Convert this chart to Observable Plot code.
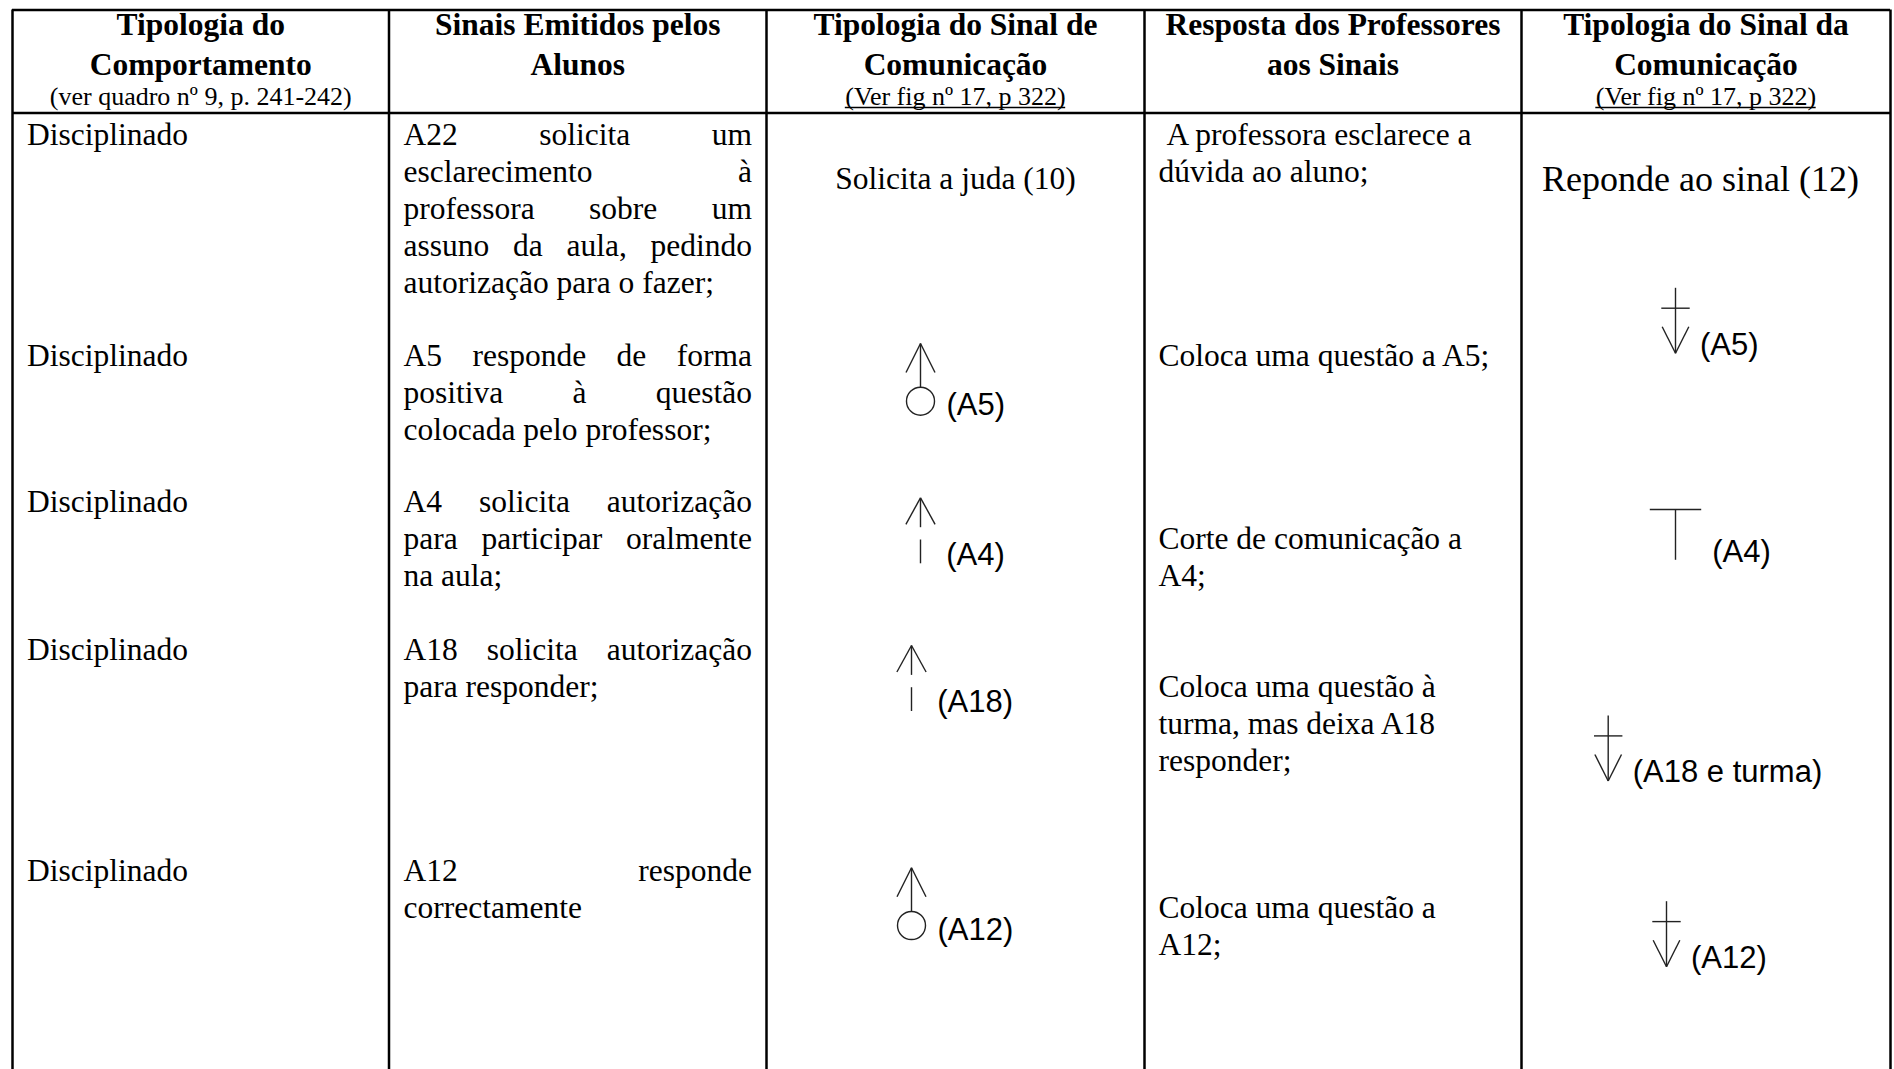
<!DOCTYPE html>
<html><head><meta charset="utf-8">
<script src="https://cdn.jsdelivr.net/npm/d3@7"></script>
<script src="https://cdn.jsdelivr.net/npm/@observablehq/plot@0.6"></script>
<style>html,body{margin:0;padding:0;background:#fff;overflow:hidden}#chart svg{display:block}</style>
</head><body><div id="chart"></div>
<script>
// ---------------- data (content) ----------------
const headers = [
  ["Tipologia do", "Comportamento"],
  ["Sinais Emitidos pelos", "Alunos"],
  ["Tipologia do Sinal de", "Comunicação"],
  ["Resposta dos Professores", "aos Sinais"],
  ["Tipologia do Sinal da", "Comunicação"]
];
const headerNotes = ["(ver quadro nº 9, p. 241-242)", "", "(Ver fig nº 17, p 322)", "", "(Ver fig nº 17, p 322)"];
const noteUnderlined = [false, false, true, false, true];
const behaviour = ["Disciplinado", "Disciplinado", "Disciplinado", "Disciplinado", "Disciplinado"];
const studentSignals = [
  ["A22 solicita um", "esclarecimento à", "professora sobre um", "assuno da aula, pedindo", "autorização para o fazer;"],
  ["A5 responde de forma", "positiva à questão", "colocada pelo professor;"],
  ["A4 solicita autorização", "para participar oralmente", "na aula;"],
  ["A18 solicita autorização", "para responder;"],
  ["A12 responde", "correctamente"]
];
const teacherResponses = [
  ["\u00a0A professora esclarece a", "dúvida ao aluno;"],
  ["Coloca uma questão a A5;"],
  ["Corte de comunicação a", "A4;"],
  ["Coloca uma questão à", "turma, mas deixa A18", "responder;"],
  ["Coloca uma questão a", "A12;"]
];
const signalCaption = "Solicita a juda (10)";
const responseCaption = "Reponde ao sinal (12)";
const studentSymbols = [null, "up-circle", "up-bar", "up-bar", "up-circle"];
const studentLabels = [null, "(A5)", "(A4)", "(A18)", "(A12)"];
const teacherSymbols = [null, "down-cross", "T", "down-cross", "down-cross"];
const teacherLabels = [null, "(A5)", "(A4)", "(A18 e turma)", "(A12)"];

// ---------------- layout ----------------
const W = 1894, H = 1069;
const colEdges = [12, 388.5, 766, 1144, 1521, 1890];
const topY = 9.5, headY = 112.5;
const headBase = [34, 74], noteBase = 104;
const rowBase = [144, 365, 511, 659, 880];
const lineH = 37;
const pad = 14;
const respOffset = [0, 0, 1, 1, 1];
const captionPos = [[955, 188], [1700, 190]];
const studentAnchor = [null, [920, 343], [920, 497.3], [911, 645], [911, 867.3]];
const teacherAnchor = [null, [1675, 287.3], [1675, 509], [1607.7, 715], [1666, 900.7]];

const SERIF = '"Times New Roman", "Liberation Serif", serif';
const SANS = 'Arial, "Liberation Sans", sans-serif';
const FS = 31.5, NOTE_FS = 26, CAP2_FS = 36, LABEL_FS = 31;
const INK = "#000", SYM = "#222";

const ctx = document.createElement("canvas").getContext("2d");
function measure(text, size, weight = "normal") {
  ctx.font = `${weight} ${size}px ${SERIF}`;
  return ctx.measureText(text).width;
}
const colCenter = (c) => (colEdges[c] + colEdges[c + 1]) / 2;

// headers
const headText = [];
headers.forEach((lines, c) => lines.forEach((t, i) => headText.push({x: colCenter(c), y: headBase[i], t})));
const noteText = [], underlines = [];
headerNotes.forEach((t, c) => {
  if (!t) return;
  noteText.push({x: colCenter(c), y: noteBase, t});
  if (noteUnderlined[c]) {
    const w = measure(t, NOTE_FS);
    underlines.push({x1: colCenter(c) - w / 2, x2: colCenter(c) + w / 2, y: noteBase + 3});
  }
});

// body text (left aligned)
const bodyText = [];
behaviour.forEach((t, r) => bodyText.push({x: colEdges[0] + pad + 0.5, y: rowBase[r], t}));
teacherResponses.forEach((lines, r) => lines.forEach((t, i) =>
  bodyText.push({x: colEdges[3] + pad, y: rowBase[r] + (i + respOffset[r]) * lineH, t})));

// justified column 2
const left2 = colEdges[1] + pad + 0.5, right2 = colEdges[2] - pad - 0.5;
studentSignals.forEach((lines, r) => lines.forEach((line, i) => {
  const y = rowBase[r] + i * lineH;
  const last = i === lines.length - 1;
  const words = line.split(" ");
  if (last || words.length < 2) { bodyText.push({x: left2, y, t: line}); return; }
  const ws = words.map((w) => measure(w, FS));
  const gap = (right2 - left2 - d3.sum(ws)) / (words.length - 1);
  let x = left2;
  words.forEach((w, k) => { bodyText.push({x, y, t: w}); x += ws[k] + gap; });
}));

// symbols
const segs = [], circles = [], labels = [];
function addSymbol(type, [x, y], label) {
  if (type === "up-circle") {
    segs.push([x, y, x - 14.5, y + 29], [x, y, x + 14.5, y + 29], [x, y, x, y + 43.7]);
    circles.push({x, y: y + 57.7});
    labels.push({x: x + 26, y: y + 62, t: label});
  } else if (type === "up-bar") {
    segs.push([x, y, x - 14.6, y + 26.5], [x, y, x + 14.6, y + 26.5], [x, y, x, y + 29.4], [x, y + 41.7, x, y + 65.5]);
    labels.push({x: x + 25.7, y: y + 57, t: label});
  } else if (type === "down-cross") {
    segs.push([x, y, x, y + 65.5], [x - 14.2, y + 20.4, x + 14.2, y + 20.4],
              [x - 13.3, y + 39, x, y + 65.5], [x + 13.3, y + 39, x, y + 65.5]);
    labels.push({x: x + 24.5, y: y + 57, t: label});
  } else if (type === "T") {
    segs.push([x - 25.7, y, x + 25.7, y], [x, y, x, y + 50.3]);
    labels.push({x: x + 36.7, y: y + 42.7, t: label});
  }
}
studentSymbols.forEach((s, r) => s && addSymbol(s, studentAnchor[r], studentLabels[r]));
teacherSymbols.forEach((s, r) => s && addSymbol(s, teacherAnchor[r], teacherLabels[r]));
const segData = segs.map(([x1, y1, x2, y2]) => ({x1, y1, x2, y2}));

const chart = Plot.plot({
  width: W, height: H, margin: 0,
  x: {domain: [0, W], range: [0, W], axis: null},
  y: {domain: [0, H], range: [0, H], axis: null},
  style: {background: "#fff"},
  marks: [
    // table grid
    Plot.ruleX(colEdges, {y1: topY, y2: H, stroke: INK, strokeWidth: 2.5}),
    Plot.ruleY([topY, headY], {x1: colEdges[0], x2: colEdges[5], stroke: INK, strokeWidth: 2.5}),
    // header
    Plot.text(headText, {x: "x", y: "y", text: "t", textAnchor: "middle", lineAnchor: "bottom",
      fontFamily: SERIF, fontWeight: "bold", fontSize: FS, fill: INK}),
    Plot.text(noteText, {x: "x", y: "y", text: "t", textAnchor: "middle", lineAnchor: "bottom",
      fontFamily: SERIF, fontSize: NOTE_FS, fill: INK}),
    Plot.ruleY(underlines, {x1: "x1", x2: "x2", y: "y", stroke: INK, strokeWidth: 1.3}),
    // body
    Plot.text(bodyText, {x: "x", y: "y", text: "t", textAnchor: "start", lineAnchor: "bottom",
      fontFamily: SERIF, fontSize: FS, fill: INK}),
    Plot.text([{x: captionPos[0][0], y: captionPos[0][1], t: signalCaption}], {x: "x", y: "y", text: "t",
      textAnchor: "middle", lineAnchor: "bottom", fontFamily: SERIF, fontSize: FS, fill: INK}),
    Plot.text([{x: captionPos[1][0], y: captionPos[1][1], t: responseCaption}], {x: "x", y: "y", text: "t",
      textAnchor: "middle", lineAnchor: "bottom", fontFamily: SERIF, fontSize: CAP2_FS, fill: INK}),
    // symbols
    Plot.link(segData, {x1: "x1", y1: "y1", x2: "x2", y2: "y2", stroke: SYM, strokeWidth: 1.4}),
    Plot.dot(circles, {x: "x", y: "y", r: 14, stroke: SYM, fill: "none", strokeWidth: 1.4}),
    Plot.text(labels, {x: "x", y: "y", text: "t", textAnchor: "start", lineAnchor: "middle",
      fontFamily: SANS, fontSize: LABEL_FS, fill: INK})
  ]
});
document.getElementById("chart").appendChild(chart);
</script>
</body></html>
